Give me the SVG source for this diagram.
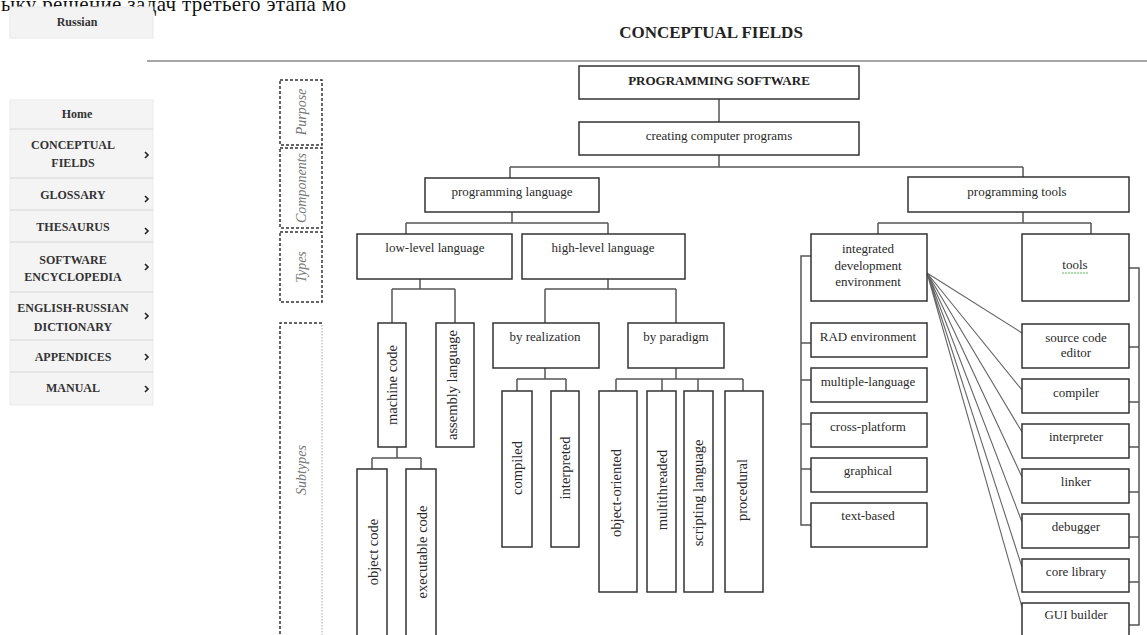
<svg xmlns="http://www.w3.org/2000/svg" width="1147" height="635" viewBox="0 0 1147 635">
<style>
.bg{fill:#ffffff}
.box{fill:#ffffff;stroke:#333333;stroke-width:1.5}
.t{font-family:"Liberation Serif",serif;font-size:13px;fill:#2a2a2a;text-anchor:middle}
.v{font-size:14.5px}
.tb{font-family:"Liberation Serif",serif;font-size:13px;font-weight:bold;fill:#222222;text-anchor:middle}
.conn{stroke:#555555;stroke-width:1.5;fill:none}
.fan{stroke:#666666;stroke-width:1.1;fill:none}
.dash{fill:none;stroke:#333333;stroke-width:1.5;stroke-dasharray:3 2}
.dot{fill:none;stroke:#aaaaaa;stroke-width:1;stroke-dasharray:1.5 1.5}
.side{font-family:"Liberation Serif",serif;font-style:italic;font-size:14px;fill:#777777;text-anchor:middle}
.menu{font-family:"Liberation Serif",serif;font-weight:bold;font-size:12px;fill:#333333;text-anchor:middle}
.sep{stroke:#e2e2e2;stroke-width:1.5}
.chev{fill:none;stroke:#222222;stroke-width:1.6}
</style>
<rect class="bg" x="0" y="0" width="1147" height="635"/>

<text x="1" y="11" font-family="Liberation Serif, serif" font-size="21" fill="#111111" textLength="345" lengthAdjust="spacing">ыку решение задач третьего этапа мо</text>

<g id="menu">
  <rect x="10" y="7" width="143" height="31" fill="#f3f3f3" stroke="#e8e8e8"/>
  <text class="menu" x="77" y="26">Russian</text>
  <rect x="10" y="100" width="143" height="305" fill="#f4f4f4" stroke="#ebebeb"/>
  <line class="sep" x1="10" y1="129" x2="153" y2="129"/>
  <line class="sep" x1="10" y1="178" x2="153" y2="178"/>
  <line class="sep" x1="10" y1="210" x2="153" y2="210"/>
  <line class="sep" x1="10" y1="242" x2="153" y2="242"/>
  <line class="sep" x1="10" y1="292" x2="153" y2="292"/>
  <line class="sep" x1="10" y1="340" x2="153" y2="340"/>
  <line class="sep" x1="10" y1="372" x2="153" y2="372"/>
  <text class="menu" x="77" y="118">Home</text>
  <text class="menu" x="73" y="149">CONCEPTUAL</text>
  <text class="menu" x="73" y="167">FIELDS</text>
  <text class="menu" x="73" y="199">GLOSSARY</text>
  <text class="menu" x="73" y="231">THESAURUS</text>
  <text class="menu" x="73" y="264">SOFTWARE</text>
  <text class="menu" x="73" y="281">ENCYCLOPEDIA</text>
  <text class="menu" x="73" y="312">ENGLISH-RUSSIAN</text>
  <text class="menu" x="73" y="331">DICTIONARY</text>
  <text class="menu" x="73" y="361">APPENDICES</text>
  <text class="menu" x="73" y="392">MANUAL</text>
  <path class="chev" d="M145,152 l3,3 l-3,3 M145,196 l3,3 l-3,3 M145,228 l3,3 l-3,3 M145,264 l3,3 l-3,3 M145,313 l3,3 l-3,3 M145,354 l3,3 l-3,3 M145,386 l3,3 l-3,3"/>
</g>

<g id="title">
  <text x="711" y="38" font-family="Liberation Serif, serif" font-size="17" font-weight="bold" fill="#222222" text-anchor="middle">CONCEPTUAL FIELDS</text>
  <line x1="147" y1="61" x2="1147" y2="61" stroke="#888888" stroke-width="1.5"/>
</g>

<g id="side-labels">
  <g id="purpose"><rect class="dash" x="280" y="80" width="42" height="65"/><text class="side" transform="translate(306,112) rotate(-90)">Purpose</text></g>
  <g id="components"><rect class="dash" x="280" y="148" width="42" height="80"/><text class="side" transform="translate(306,188) rotate(-90)">Components</text></g>
  <g id="types"><rect class="dash" x="280" y="232" width="42" height="70"/><text class="side" transform="translate(306,267) rotate(-90)">Types</text></g>
  <g id="subtypes">
    <path class="dash" d="M322,323 H280 V640"/>
    <line class="dot" x1="322" y1="325" x2="322" y2="640"/>
    <text class="side" transform="translate(306,470) rotate(-90)">Subtypes</text>
  </g>
</g>

<g id="connectors">
  <path class="conn" d="M719,99 V122"/>
  <path class="conn" d="M719,155 V167 M510,167 H1023 M510,167 V178 M1023,167 V177"/>
  <path class="conn" d="M512,212 V223 M406,223 H608 M406,223 V234 M608,223 V234"/>
  <path class="conn" d="M420,279 V289 M392,289 H455 M392,289 V323 M455,289 V323"/>
  <path class="conn" d="M397,447 V458 M372,458 H421 M372,458 V469 M421,458 V469"/>
  <path class="conn" d="M608,279 V289 M545,289 H676 M545,289 V323 M676,289 V323"/>
  <path class="conn" d="M545,368 V379 M517,379 H566 M517,379 V391 M566,379 V391"/>
  <path class="conn" d="M676,368 V379 M616,379 H743 M616,379 V391 M662,379 V391 M698,379 V391 M743,379 V391"/>
  <path class="conn" d="M1023,212 V223 M878,223 H1091 M878,223 V234 M1091,223 V234"/>
  <path class="conn" d="M811,256 H801 V525 H811 M801,343 H811 M801,380 H811 M801,424 H811 M801,469 H811"/>
  <path class="conn" d="M1129,268 H1139 V625 H1129 M1129,347 H1139 M1129,402 H1139 M1129,447 H1139 M1129,492 H1139 M1129,537 H1139 M1129,582 H1139"/>
  <path class="fan" d="M927,273 L1022,333 M927,273 L1022,390 M927,273 L1022,432 M927,273 L1022,477 M927,273 L1022,522 M927,273 L1022,567 M927,273 L1022,607"/>
</g>

<g id="programming-software"><rect class="box" x="579" y="66" width="280" height="33"/><text class="tb" x="719" y="85">PROGRAMMING SOFTWARE</text></g>
<g id="creating-computer-programs"><rect class="box" x="579" y="122" width="280" height="33"/><text class="t" x="719" y="140">creating computer programs</text></g>
<g id="programming-language"><rect class="box" x="425" y="178" width="174" height="34"/><text class="t" x="512" y="196">programming language</text></g>
<g id="programming-tools"><rect class="box" x="908" y="177" width="221" height="35"/><text class="t" x="1017" y="196">programming tools</text></g>
<g id="low-level-language"><rect class="box" x="357" y="234" width="155" height="45"/><text class="t" x="435" y="252">low-level language</text></g>
<g id="high-level-language"><rect class="box" x="522" y="234" width="163" height="45"/><text class="t" x="603" y="252">high-level language</text></g>
<g id="machine-code"><rect class="box" x="378" y="323" width="28" height="124"/><text class="t v" transform="translate(397,385) rotate(-90)">machine code</text></g>
<g id="assembly-language"><rect class="box" x="436" y="323" width="38" height="124"/><text class="t v" transform="translate(457,385) rotate(-90)">assembly language</text></g>
<g id="object-code"><rect class="box" x="357" y="469" width="30" height="180"/><text class="t v" transform="translate(377.5,552) rotate(-90)">object code</text></g>
<g id="executable-code"><rect class="box" x="406" y="469" width="30" height="180"/><text class="t v" transform="translate(426.5,552) rotate(-90)">executable code</text></g>
<g id="by-realization"><rect class="box" x="493" y="323" width="106" height="45"/><text class="t" x="545" y="341">by realization</text></g>
<g id="by-paradigm"><rect class="box" x="628" y="323" width="96" height="45"/><text class="t" x="676" y="341">by paradigm</text></g>
<g id="compiled"><rect class="box" x="502" y="391" width="30" height="156"/><text class="t v" transform="translate(522,468) rotate(-90)">compiled</text></g>
<g id="interpreted"><rect class="box" x="551" y="391" width="28" height="156"/><text class="t v" transform="translate(570,468) rotate(-90)">interpreted</text></g>
<g id="object-oriented"><rect class="box" x="599" y="391" width="38" height="201"/><text class="t v" transform="translate(620.5,493) rotate(-90)">object-oriented</text></g>
<g id="multithreaded"><rect class="box" x="647" y="391" width="29" height="201"/><text class="t v" transform="translate(666.5,490) rotate(-90)">multithreaded</text></g>
<g id="scripting-language"><rect class="box" x="684" y="391" width="29" height="201"/><text class="t v" transform="translate(703,493) rotate(-90)">scripting language</text></g>
<g id="procedural"><rect class="box" x="725" y="391" width="38" height="201"/><text class="t v" transform="translate(747,490) rotate(-90)">procedural</text></g>
<g id="ide"><rect class="box" x="811" y="234" width="116" height="67"/><text class="t" x="868" y="253">integrated</text><text class="t" x="868" y="270">development</text><text class="t" x="868" y="286">environment</text></g>
<g id="tools"><rect class="box" x="1022" y="234" width="107" height="67"/><text class="t" x="1075" y="269">tools</text><line x1="1062" y1="273" x2="1088" y2="273" stroke="#5cb85c" stroke-width="1" stroke-dasharray="2 1"/></g>
<g id="rad-environment"><rect class="box" x="811" y="323" width="116" height="34"/><text class="t" x="868" y="341">RAD environment</text></g>
<g id="multiple-language"><rect class="box" x="811" y="368" width="116" height="34"/><text class="t" x="868" y="386">multiple-language</text></g>
<g id="cross-platform"><rect class="box" x="811" y="413" width="116" height="34"/><text class="t" x="868" y="431">cross-platform</text></g>
<g id="graphical"><rect class="box" x="811" y="458" width="116" height="34"/><text class="t" x="868" y="475">graphical</text></g>
<g id="text-based"><rect class="box" x="811" y="503" width="116" height="44"/><text class="t" x="868" y="520">text-based</text></g>
<g id="source-code-editor"><rect class="box" x="1022" y="324" width="107" height="44"/><text class="t" x="1076" y="342">source code</text><text class="t" x="1076" y="357">editor</text></g>
<g id="compiler"><rect class="box" x="1022" y="379" width="107" height="34"/><text class="t" x="1076" y="397">compiler</text></g>
<g id="interpreter"><rect class="box" x="1022" y="424" width="107" height="34"/><text class="t" x="1076" y="441">interpreter</text></g>
<g id="linker"><rect class="box" x="1022" y="469" width="107" height="34"/><text class="t" x="1076" y="486">linker</text></g>
<g id="debugger"><rect class="box" x="1022" y="514" width="107" height="34"/><text class="t" x="1076" y="531">debugger</text></g>
<g id="core-library"><rect class="box" x="1022" y="559" width="107" height="33"/><text class="t" x="1076" y="576">core library</text></g>
<g id="gui-builder"><rect class="box" x="1022" y="603" width="107" height="40"/><text class="t" x="1076" y="619">GUI builder</text></g>
</svg>
